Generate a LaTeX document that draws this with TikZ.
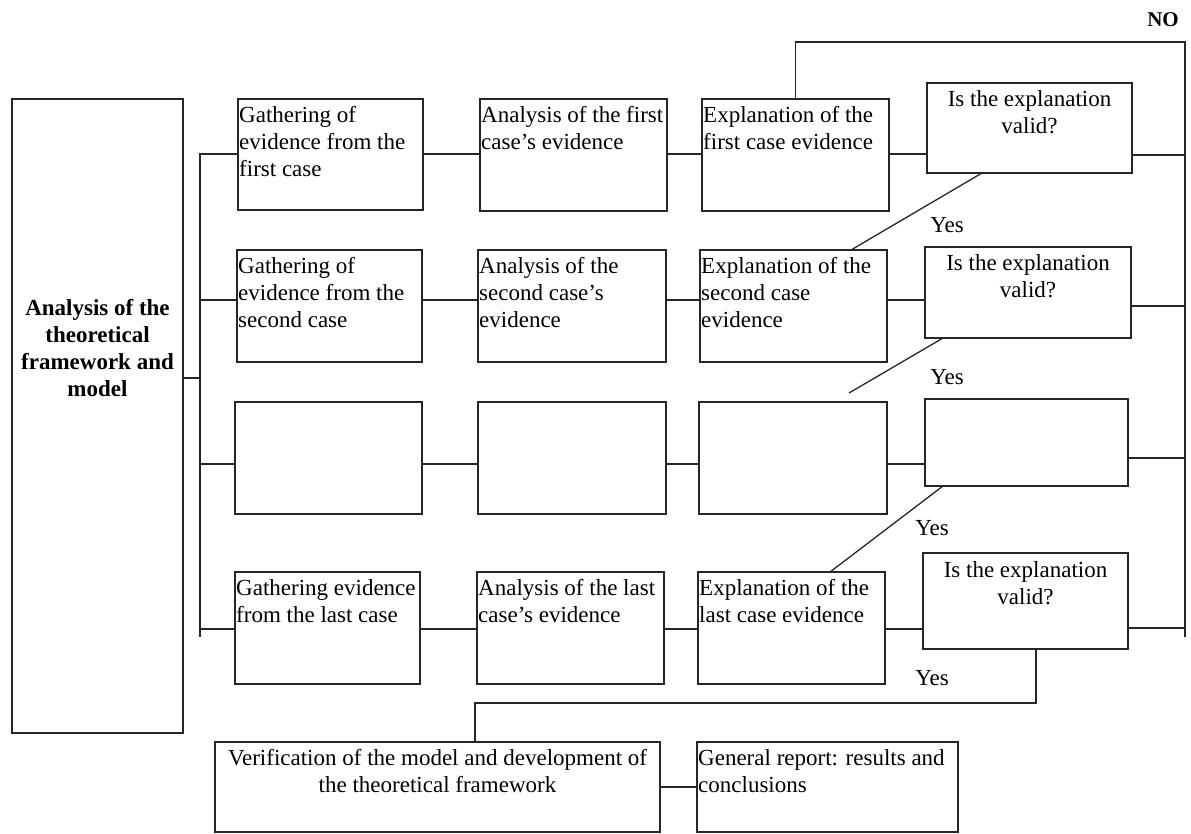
\documentclass[tikz,border=0pt]{standalone}
\usepackage{fontspec}
\setmainfont{Liberation Serif}
\begin{document}
\begin{tikzpicture}[x=1pt,y=-1pt,
  box/.style={draw=black!85, line width=1.3pt, rectangle, inner sep=0pt, outer sep=0pt, anchor=north west},
  txt/.style={font=\fontsize{23}{27}\selectfont, inner sep=0pt, align=left, anchor=north west},
  ctxt/.style={font=\fontsize{23}{27}\selectfont, inner sep=0pt, align=center, anchor=north},
  btxt/.style={font=\fontsize{23}{27}\selectfont\bfseries, inner sep=0pt, align=center, anchor=north},
  lbl/.style={font=\fontsize{23}{27}\selectfont, inner sep=0pt},
  link/.style={draw=black!85, line width=1.3pt}
]
\useasboundingbox (0,0) rectangle (1191,834);

% box: name, x, y (top left), width, height
\newcommand\bx[5]{\node[box, minimum width=#4pt, minimum height=#5pt] (#1) at (#2,#3) {};}

% theoretical framework
\bx{A}{12}{99}{171}{634}
% first case
\bx{g1}{238}{99}{185}{111}
\bx{a1}{480}{99}{187}{112}
\bx{e1}{702}{99}{187}{112}
\bx{v1}{927}{83}{205}{90}
% second case
\bx{g2}{237}{250}{185}{112}
\bx{a2}{478}{250}{188}{112}
\bx{e2}{700}{250}{187}{112}
\bx{v2}{925}{247}{206}{91}
% intermediate cases
\bx{g3}{235}{402}{187}{112}
\bx{a3}{478}{402}{188}{112}
\bx{e3}{699}{402}{188}{112}
\bx{v3}{925}{399}{203}{87}
% last case
\bx{g4}{235}{572}{185}{112}
\bx{a4}{477}{572}{187}{112}
\bx{e4}{698}{572}{187}{112}
\bx{v4}{923}{553}{205}{96}
% conclusions
\bx{ver}{215}{742}{445}{90}
\bx{rep}{697}{742}{261}{90}

% texts
\node[btxt] (At) at (A.north |- 0,299) {Analysis of the\\theoretical\\framework and\\model};
\node[txt] (g1t) at ([xshift=1pt,yshift=-7pt]g1.north west) {Gathering of\\evidence from the\\first case};
\node[txt] (a1t) at ([xshift=1pt,yshift=-7pt]a1.north west) {Analysis of the first\\case’s evidence};
\node[txt] (e1t) at ([xshift=1pt,yshift=-7pt]e1.north west) {Explanation of the\\first case evidence};
\node[ctxt] (v1t) at ([yshift=-7pt]v1.north) {Is the explanation\\valid?};
\node[txt] (g2t) at ([xshift=1pt,yshift=-7pt]g2.north west) {Gathering of\\evidence from the\\second case};
\node[txt] (a2t) at ([xshift=1pt,yshift=-7pt]a2.north west) {Analysis of the\\second case’s\\evidence};
\node[txt] (e2t) at ([xshift=1pt,yshift=-7pt]e2.north west) {Explanation of the\\second case\\evidence};
\node[ctxt] (v2t) at ([yshift=-7pt]v2.north) {Is the explanation\\valid?};
\node[txt] (g4t) at ([xshift=1pt,yshift=-7pt]g4.north west) {Gathering evidence\\from the last case};
\node[txt] (a4t) at ([xshift=1pt,yshift=-7pt]a4.north west) {Analysis of the last\\case’s evidence};
\node[txt] (e4t) at ([xshift=1pt,yshift=-7pt]e4.north west) {Explanation of the\\last case evidence};
\node[ctxt] (v4t) at ([yshift=-8pt]v4.north) {Is the explanation\\valid?};
\node[ctxt] (vert) at ([yshift=-7pt]ver.north) {Verification of the model and development of\\the theoretical framework};
\node[txt] (rept) at ([xshift=1pt,yshift=-7pt]rep.north west) {General report: results and\\conclusions};

% labels
\node[lbl] (y1) at (947,225) {Yes};
\node[lbl] (y2) at (947,377) {Yes};
\node[lbl] (y3) at (932,528) {Yes};
\node[lbl] (y4) at (932,678) {Yes};
\node[font=\fontsize{21}{25}\selectfont\bfseries, inner sep=0pt] (no) at (1163,20) {NO};

% left bus
\coordinate (bt) at (200,153);
\coordinate (bb) at (200,637);
\coordinate (bm) at (200,378);
\coordinate (r1) at (0,154);
\coordinate (r2) at (0,300);
\coordinate (r3) at (0,464);
\coordinate (r4) at (0,629);
\draw[link] (bt) -- (bb);
\draw[link] (A.east |- bm) -- (bm);

% rows
\foreach \i in {1,2,3,4}{
  \draw[link] (bt |- r\i) -- (g\i.west |- r\i)
              (g\i.east |- r\i) -- (a\i.west |- r\i)
              (a\i.east |- r\i) -- (e\i.west |- r\i)
              (e\i.east |- r\i) -- (v\i.west |- r\i);
}

% right bus and NO loop
\coordinate (nt) at (1185,42);
\coordinate (nb) at (1185,637);
\draw[link] (e1.north) -- (e1.north |- nt) -- (nt) -- (nb);
\coordinate (q1) at (0,155);
\coordinate (q2) at (0,306);
\coordinate (q3) at (0,458);
\coordinate (q4) at (0,628);
\foreach \i in {1,2,3,4}{
  \draw[link] (v\i.east |- q\i) -- (nt |- q\i);
}

% Yes transitions
\coordinate (d2) at (849,393);
\draw[link] ([xshift=55pt]v1.south west) -- ([xshift=-36pt]e2.north east);
\draw[link] ([xshift=18pt]v2.south west) -- (d2);
\draw[link] ([xshift=18pt]v3.south west) -- ([xshift=132pt]e4.north west);

% final Yes to verification
\coordinate (lp) at (0,703);
\coordinate (s4) at ([xshift=113pt]v4.south west);
\coordinate (vtop) at ([xshift=260pt]ver.north west);
\draw[link] (s4) |- (vtop |- lp) -- (vtop);
\draw[link] (ver.east) -- (rep.west);
\end{tikzpicture}
\end{document}
